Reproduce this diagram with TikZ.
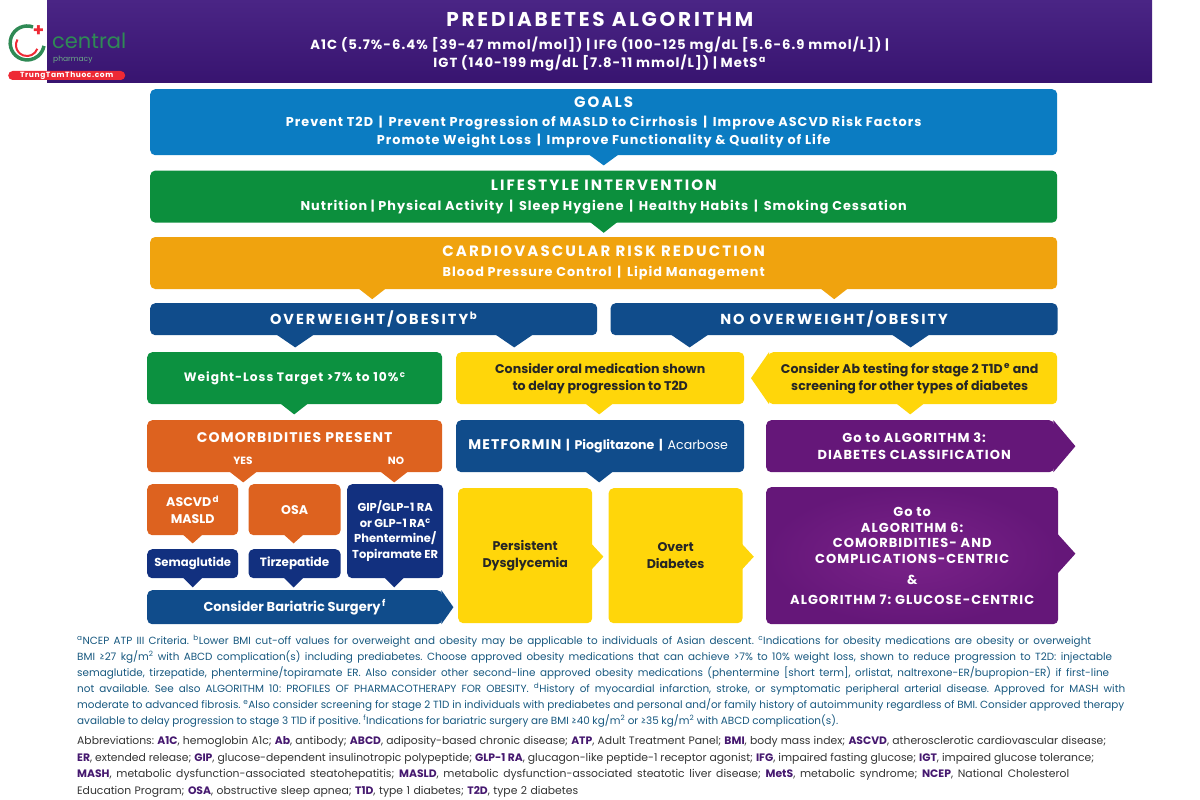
\documentclass[tikz,border=0pt]{standalone}
\usepackage{fontspec}
\setmainfont{Poppins}
\newfontfamily\spacedfont[LetterSpace=14]{Poppins}
\newfontfamily\lighttrack[LetterSpace=8]{Poppins}
\usetikzlibrary{positioning, shapes.misc}
\frenchspacing

\definecolor{headtop}{HTML}{4A2585}
\definecolor{headbot}{HTML}{381470}
\definecolor{goalblue}{HTML}{0B7CC2}
\definecolor{lifegreen}{HTML}{0C8F3D}
\definecolor{riskamber}{HTML}{F0A30E}
\definecolor{navyblue}{HTML}{104C8B}
\definecolor{deepnavy}{HTML}{12307F}
\definecolor{signgreen}{HTML}{0C9140}
\definecolor{burnt}{HTML}{DD621F}
\definecolor{lemon}{HTML}{FFD60A}
\definecolor{plum}{HTML}{651779}
\definecolor{plumlight}{HTML}{7A2289}
\definecolor{notetext}{HTML}{17587F}
\definecolor{abbrtext}{HTML}{333333}
\definecolor{abbrhead}{HTML}{45186F}
\definecolor{logogreen}{HTML}{2F8A55}
\definecolor{logored}{HTML}{EE2A35}

% tab under a box: colour, half width, box, shift, tip depth
\newcommand{\downtab}[5]{\fill[#1] ([xshift=#4pt-#2pt,yshift=1pt]#3.south) -- ([xshift=#4pt+#2pt,yshift=1pt]#3.south) -- ([xshift=#4pt,yshift=-#5pt]#3.south) -- cycle;}
% tab on the right of a box: colour, half height, box, shift, tip length
\newcommand{\sidetab}[5]{\fill[#1] ([yshift=#4pt-#2pt,xshift=-1pt]#3.east) -- ([yshift=#4pt+#2pt,xshift=-1pt]#3.east) -- ([yshift=#4pt,xshift=#5pt]#3.east) -- cycle;}
\newcommand{\abbr}[1]{{\bfseries\color{abbrhead}#1}}
\newcommand{\fitline}[2]{\hbox to #1pt{#2}}

\begin{document}
\begin{tikzpicture}[
    x=1pt, y=-1pt,
    box/.style={rounded corners=5pt, align=center, inner sep=0pt, text=white, font={\fontsize{12.6}{17}\selectfont\bfseries}},
    band/.style={box, anchor=north west, minimum width=907pt, font={\lighttrack\fontsize{12.8}{18}\selectfont\bfseries}},
    algotext/.style={font={\lighttrack\fontsize{13}{15.7}\selectfont\bfseries}},
    darktext/.style={text=black!85},
    note/.style={anchor=north west, align=left, inner sep=0pt}
]
\useasboundingbox (0,0) rectangle (1200,800);

% header
\node[anchor=north west, inner sep=0pt, minimum width=1105pt, minimum height=82pt, top color=headtop, bottom color=headbot, text=white, align=center, font={\lighttrack\fontsize{13.2}{18}\selectfont\bfseries}] (header) at (47,0) {{\spacedfont\fontsize{20}{24}\selectfont\bfseries PREDIABETES ALGORITHM}\\[5pt]A1C (5.7\%-6.4\% [39-47 mmol/mol]) | IFG (100-125 mg/dL [5.6-6.9 mmol/L]) |\\IGT (140-199 mg/dL [7.8-11 mmol/L]) | MetS\textsuperscript{\,a}};

% logo
\draw[logogreen, line width=3.5pt] (33,27) arc[start angle=-70, delta angle=-280, radius=17];
\draw[logored, line width=2pt] (37.3,48.8) arc[start angle=20, delta angle=190, radius=11];
\node[logored, inner sep=0pt, font={\fontsize{18}{18}\selectfont\bfseries}] (logocross) at (38.5,31) {+};
\node[anchor=west, inner sep=0pt, text=logogreen, font={\fontsize{21}{21}\selectfont}] (logoname) at (52,41) {central};
\node[anchor=west, inner sep=0pt, text=logogreen!70, font={\fontsize{7.5}{8}\selectfont}] (logosub) at (53,60) {pharmacy};
\node[anchor=west, rounded rectangle, inner sep=0pt, minimum width=117pt, minimum height=9pt, fill=logored, text=white, font={\lighttrack\fontsize{7.5}{8}\selectfont\bfseries}] (logopill) at (8,75.5) {TrungTamThuoc.com};

% top bands
\node[band, minimum height=66pt, fill=goalblue] (goals) at (150,89) {{\spacedfont\fontsize{15}{18}\selectfont\bfseries GOALS}\\[1pt]Prevent T2D \,|\, Prevent Progression of MASLD to Cirrhosis \,|\, Improve ASCVD Risk Factors\\Promote Weight Loss \,|\, Improve Functionality \& Quality of Life};
\node[band, minimum height=52pt, fill=lifegreen, below=15pt of goals] (lifestyle) {{\spacedfont\fontsize{15}{20}\selectfont\bfseries LIFESTYLE INTERVENTION}\\[2pt]Nutrition | Physical Activity \,|\, Sleep Hygiene \,|\, Healthy Habits \,|\, Smoking Cessation};
\node[band, minimum height=52pt, fill=riskamber, below=14pt of lifestyle] (risk) {{\spacedfont\fontsize{15}{20}\selectfont\bfseries CARDIOVASCULAR RISK REDUCTION}\\[2pt]Blood Pressure Control \,|\, Lipid Management};
\node[box, anchor=north west, minimum width=447pt, minimum height=32pt, fill=navyblue, font={\spacedfont\fontsize{14.5}{18}\selectfont\bfseries}] (over) at (150,303) {OVERWEIGHT/OBESITY\textsuperscript{\,b}};
\node[box, anchor=north west, minimum width=447pt, minimum height=32pt, fill=navyblue, font={\spacedfont\fontsize{14.5}{18}\selectfont\bfseries}, right=13pt of over] (noover) {NO OVERWEIGHT/OBESITY};

% left column
\node[box, anchor=north west, minimum width=295pt, minimum height=52pt, fill=signgreen, font={\lighttrack\fontsize{12.2}{17}\selectfont\bfseries}] (target) at (147,352) {Weight-Loss Target >7\% to 10\%\textsuperscript{\,c}};
\node[box, anchor=north west, minimum width=295pt, minimum height=52pt, fill=burnt, text depth=17pt, font={\lighttrack\fontsize{14}{18}\selectfont\bfseries}] (comorb) at (147,420) {COMORBIDITIES PRESENT};
\node[inner sep=0pt, text=white, font={\fontsize{10.5}{12}\selectfont\bfseries}] (yes) at (243,461) {YES};
\node[inner sep=0pt, text=white, font={\fontsize{10.5}{12}\selectfont\bfseries}] (no) at (396,461) {NO};
\node[box, anchor=north west, minimum width=91pt, minimum height=51pt, fill=burnt] (ascvd) at (147,484) {ASCVD\textsuperscript{\,d}\\MASLD};
\node[box, anchor=north west, minimum width=92pt, minimum height=51pt, fill=burnt, right=10pt of ascvd] (osa) {OSA};
\node[box, anchor=north west, minimum width=96pt, minimum height=94pt, fill=deepnavy, font={\fontsize{11.5}{15.5}\selectfont\bfseries}] (gip) at (347,484) {GIP/GLP-1 RA\\or GLP-1 RA\textsuperscript{c}\\Phentermine/\\Topiramate ER};
\node[box, anchor=north west, minimum width=91pt, minimum height=29pt, fill=deepnavy, font={\fontsize{11.6}{15}\selectfont\bfseries}] (sema) at (147,549) {Semaglutide};
\node[box, anchor=north west, minimum width=92pt, minimum height=29pt, fill=deepnavy, font={\fontsize{12}{15}\selectfont\bfseries}, right=10pt of sema] (tirze) {Tirzepatide};
\node[box, anchor=north west, minimum width=295pt, minimum height=34pt, fill=navyblue, font={\fontsize{13}{15}\selectfont\bfseries}] (bariatric) at (147,590) {Consider Bariatric Surgery\textsuperscript{\,f}};

% middle column
\node[box, darktext, anchor=north west, minimum width=288pt, minimum height=52pt, fill=lemon] (oral) at (456,352) {Consider oral medication shown\\to delay progression to T2D};
\node[box, anchor=north west, minimum width=288pt, minimum height=52pt, fill=navyblue] (metformin) at (456,420) {{\lighttrack\fontsize{14}{18}\selectfont\bfseries METFORMIN} \,|\, Pioglitazone \,|\, {\fontseries{m}\selectfont Acarbose}\hspace*{4pt}};
\node[box, darktext, anchor=north west, minimum width=134pt, minimum height=135pt, fill=lemon] (persist) at (458,488) {Persistent\\Dysglycemia};
\node[box, darktext, anchor=north west, minimum width=134pt, minimum height=135pt, fill=lemon, right=16pt of persist] (overt) {Overt\\Diabetes};

% right column
\node[box, darktext, anchor=north west, minimum width=289pt, minimum height=52pt, fill=lemon] (abtest) at (768,352) {Consider Ab testing for stage 2 T1D\textsuperscript{\,e} and\hspace*{6pt}\\screening for other types of diabetes\hspace*{6pt}};
\node[box, algotext, anchor=north west, minimum width=288pt, minimum height=52pt, fill=plum] (algthree) at (766,420) {\hspace*{8pt}Go to ALGORITHM 3:\\[1pt]\hspace*{8pt}DIABETES CLASSIFICATION};
\node[box, algotext, anchor=north west, minimum width=292pt, minimum height=137pt, inner color=plumlight, outer color=plum] (algsix) at (766,487) {Go to\\ALGORITHM 6:\\COMORBIDITIES- AND\\COMPLICATIONS-CENTRIC\\[5pt]\&\\[4pt]ALGORITHM 7: GLUCOSE-CENTRIC};

% tabs
\downtab{goalblue}{15}{goals}{0}{10}
\downtab{lifegreen}{14}{lifestyle}{0}{10}
\downtab{riskamber}{14}{risk}{-231.5}{10}
\downtab{riskamber}{14}{risk}{230.5}{10}
\downtab{navyblue}{19}{over}{-78.5}{12}
\downtab{navyblue}{19}{over}{140.5}{12}
\downtab{navyblue}{19}{noover}{-144.5}{12}
\downtab{navyblue}{19}{noover}{76.5}{12}
\downtab{signgreen}{14}{target}{-0.5}{10}
\downtab{burnt}{14}{comorb}{-51.5}{10}
\downtab{burnt}{14}{comorb}{99.5}{10}
\downtab{burnt}{10}{ascvd}{0}{8}
\downtab{burnt}{10}{osa}{-1}{8}
\downtab{deepnavy}{10}{sema}{0}{9}
\downtab{deepnavy}{10}{tirze}{-1}{9}
\downtab{deepnavy}{10}{gip}{-1}{9}
\sidetab{navyblue}{17}{bariatric}{0}{11}
\downtab{lemon}{14}{oral}{-1}{10}
\downtab{lemon}{14}{abtest}{-2.5}{10}
\downtab{navyblue}{14}{metformin}{-1}{10}
\sidetab{lemon}{13}{persist}{-1}{11}
\sidetab{lemon}{13}{overt}{-1}{11}
\sidetab{plum}{26}{algthree}{0}{21}
\sidetab{plum}{20}{algsix}{2}{17}
% left pointing tab of the Ab box
\fill[lemon] ([xshift=1pt,yshift=-26pt]abtest.west) -- ([xshift=1pt,yshift=26pt]abtest.west) -- ([xshift=-17pt]abtest.west) -- cycle;

% notes
\node[note, text=notetext, font={\fontsize{10.4}{16}\selectfont}] (notes) at (77,635) {\fitline{1014}{\textsuperscript{a}NCEP ATP III Criteria. \textsuperscript{b}Lower BMI cut-off values for overweight and obesity may be applicable to individuals of Asian descent. \textsuperscript{c}Indications for obesity medications are obesity or overweight}\\
\fitline{1035}{BMI ≥27 kg/m\textsuperscript{2} with ABCD complication(s) including prediabetes. Choose approved obesity medications that can achieve >7\% to 10\% weight loss, shown to reduce progression to T2D: injectable}\\
\fitline{1032}{semaglutide, tirzepatide, phentermine/topiramate ER. Also consider other second-line approved obesity medications (phentermine [short term], orlistat, naltrexone-ER/bupropion-ER) if first-line}\\
\fitline{1048}{not available. See also ALGORITHM 10: PROFILES OF PHARMACOTHERAPY FOR OBESITY. \textsuperscript{d}History of myocardial infarction, stroke, or symptomatic peripheral arterial disease. Approved for MASH with}\\
\fitline{1047}{moderate to advanced fibrosis. \textsuperscript{e}Also consider screening for stage 2 T1D in individuals with prediabetes and personal and/or family history of autoimmunity regardless of BMI. Consider approved therapy}\\
\fitline{761}{available to delay progression to stage 3 T1D if positive. \textsuperscript{f}Indications for bariatric surgery are BMI ≥40 kg/m\textsuperscript{2} or ≥35 kg/m\textsuperscript{2} with ABCD complication(s).}};
\node[note, text=abbrtext, font={\fontsize{10.8}{16.7}\selectfont}] (abbrevs) at (77,736) {\fitline{1029}{Abbreviations: \abbr{A1C}, hemoglobin A1c; \abbr{Ab}, antibody; \abbr{ABCD}, adiposity-based chronic disease; \abbr{ATP}, Adult Treatment Panel; \abbr{BMI}, body mass index; \abbr{ASCVD}, atherosclerotic cardiovascular disease;}\\
\fitline{1017}{\abbr{ER}, extended release; \abbr{GIP}, glucose-dependent insulinotropic polypeptide; \abbr{GLP-1 RA}, glucagon-like peptide-1 receptor agonist; \abbr{IFG}, impaired fasting glucose; \abbr{IGT}, impaired glucose tolerance;}\\
\fitline{992}{\abbr{MASH}, metabolic dysfunction-associated steatohepatitis; \abbr{MASLD}, metabolic dysfunction-associated steatotic liver disease; \abbr{MetS}, metabolic syndrome; \abbr{NCEP}, National Cholesterol}\\
\fitline{501}{Education Program; \abbr{OSA}, obstructive sleep apnea; \abbr{T1D}, type 1 diabetes; \abbr{T2D}, type 2 diabetes}};
\end{tikzpicture}
\end{document}
